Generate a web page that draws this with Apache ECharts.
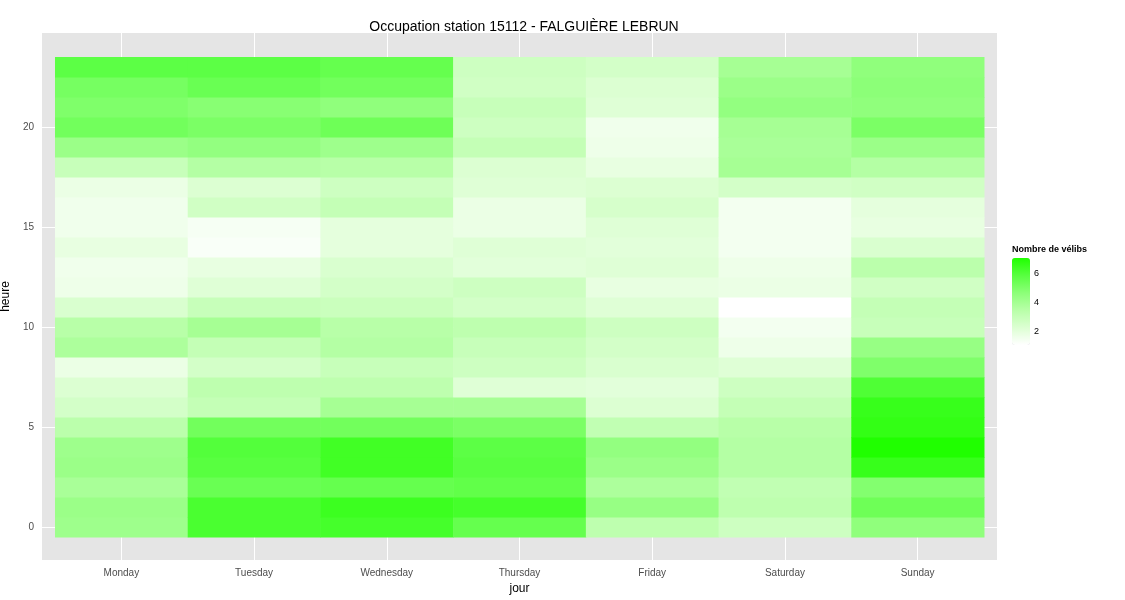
<!DOCTYPE html>
<html>
<head>
<meta charset="UTF-8">
<title>Occupation station 15112</title>
<script src="https://cdn.jsdelivr.net/npm/echarts@6/dist/echarts.min.js"></script>
<style>
  body { margin: 0; background: #fff; }
  #chart { width: 1125px; height: 600px; }
</style>
</head>
<body>
<div id="chart"></div>
<script>
// jours et heures
const days = ['Monday', 'Tuesday', 'Wednesday', 'Thursday', 'Friday', 'Saturday', 'Sunday'];
const hourTicks = [0, 5, 10, 15, 20];
const legendTicks = [2, 4, 6];

// nombre moyen de vélibs, heures 0..23
const monday    = [4.2,4.3,3.9,4.3,4.2,3.4,2.6,2.3,1.8,3.8,3.5,2.4,1.7,1.6,1.9,1.6,1.6,1.8,3.0,4.3,5.3,5.0,5.2,5.8];
const tuesday   = [6.2,6.2,5.5,5.9,6.0,5.3,3.1,3.3,2.6,3.1,4.0,3.0,2.2,1.9,1.3,1.4,2.7,2.3,3.6,4.5,5.1,4.8,5.5,5.8];
const wednesday = [6.3,6.5,5.6,6.4,6.4,5.3,4.0,3.3,3.0,3.6,3.5,2.9,2.6,2.4,2.0,2.0,3.1,2.8,3.5,4.2,5.4,4.6,5.3,5.6];
const thursday  = [5.6,6.3,5.7,5.9,5.8,5.1,4.0,2.2,2.8,3.0,3.3,2.6,2.8,2.1,2.2,1.8,1.8,2.2,2.3,3.1,2.8,3.0,2.7,2.8];
const friday    = [3.3,4.4,3.8,4.3,4.5,3.2,2.3,2.1,2.4,2.6,2.8,2.2,1.9,2.2,2.1,2.2,2.5,2.3,1.9,1.7,1.6,2.2,2.3,2.6];
const saturday  = [2.8,3.3,3.2,3.6,3.6,3.5,3.1,2.8,2.2,1.7,1.5,1.1,1.8,1.7,1.5,1.5,1.5,2.6,4.0,3.9,4.0,4.5,4.3,4.0];
const sunday    = [4.6,5.4,4.9,6.6,7.1,6.7,6.6,6.1,5.0,4.4,3.0,3.1,2.7,3.4,2.4,1.9,2.0,2.7,3.6,4.3,5.1,4.6,4.7,4.6];

const byDay = [monday, tuesday, wednesday, thursday, friday, saturday, sunday];
const data = [];
byDay.forEach((vals, d) => vals.forEach((v, h) => data.push([d, h, v])));

const vMin = 1.1, vMax = 7.1;
const lgTop = 258, lgH = 87;

const chart = echarts.init(document.getElementById('chart'));
chart.setOption({
  animation: false,
  title: {
    text: 'Occupation station 15112 - FALGUIÈRE LEBRUN',
    left: 519, top: 15, textAlign: 'center',
    textStyle: { fontFamily: 'Liberation Sans', fontSize: 14, fontWeight: 'normal', color: '#000' }
  },
  grid: { left: 42, right: 128, top: 33, bottom: 40, outerBoundsMode: 'none', containLabel: false },
  xAxis: {
    type: 'value', min: -0.598, max: 6.598,
    name: 'jour', nameLocation: 'middle', nameGap: 20,
    nameTextStyle: { fontFamily: 'Liberation Sans', fontSize: 12, color: '#000' },
    axisLine: { show: false },
    axisTick: { customValues: [0,1,2,3,4,5,6], length: 4, lineStyle: { color: '#7f7f7f' } },
    axisLabel: { customValues: [0,1,2,3,4,5,6], formatter: v => days[Math.round(v)], color: '#4d4d4d', fontSize: 10, fontFamily: 'Liberation Sans', margin: 8 },
    splitLine: { show: true, lineStyle: { color: '#fff', width: 1 } }
  },
  yAxis: {
    type: 'value', min: -1.65, max: 24.7,
    name: 'heure', nameLocation: 'middle', nameGap: 25,
    nameTextStyle: { fontFamily: 'Liberation Sans', fontSize: 12, color: '#000' },
    axisLine: { show: false },
    axisTick: { customValues: hourTicks, length: 4, lineStyle: { color: '#7f7f7f' } },
    axisLabel: { customValues: hourTicks, color: '#4d4d4d', fontSize: 10, fontFamily: 'Liberation Sans', margin: 8 },
    splitLine: { show: true, lineStyle: { color: '#fff', width: 1 } }
  },
  visualMap: {
    type: 'continuous', min: vMin, max: vMax, dimension: 2, seriesIndex: 0,
    left: 1012, top: lgTop, itemWidth: 18, itemHeight: lgH, padding: 0,
    text: ['', ''], textGap: 0, showLabel: false, calculable: false, hoverLink: false,
    inRange: { color: ['#ffffff', '#dcffd2', '#b8ffa8', '#8cff78', '#58ff40', '#20ff00'] }
  },
  graphic: [
    { type: 'rect', left: 42, top: 33, z: -10, shape: { width: 955, height: 527 }, style: { fill: '#e5e5e5' } },
    { type: 'text', left: 1012, top: 245, z: 100, style: { text: 'Nombre de vélibs', font: 'bold 9px Liberation Sans', fill: '#000' } }
  ].concat(legendTicks.map(t => ({
    type: 'text', left: 1034, z: 100,
    top: lgTop + (vMax - t) / (vMax - vMin) * lgH - 5,
    style: { text: String(t), font: '9px Liberation Sans', fill: '#000' }
  }))),
  series: [{
    type: 'custom',
    data: data,
    encode: { x: 0, y: 1 },
    renderItem: (params, api) => {
      const c0 = api.coord([api.value(0) - 0.5, api.value(1) + 0.5]);
      const c1 = api.coord([api.value(0) + 0.5, api.value(1) - 0.5]);
      return {
        type: 'rect',
        shape: { x: c0[0], y: c0[1], width: c1[0] - c0[0] + 0.5, height: c1[1] - c0[1] + 0.5 },
        style: { fill: api.visual('color') }
      };
    }
  }]
});
</script>
</body>
</html>
